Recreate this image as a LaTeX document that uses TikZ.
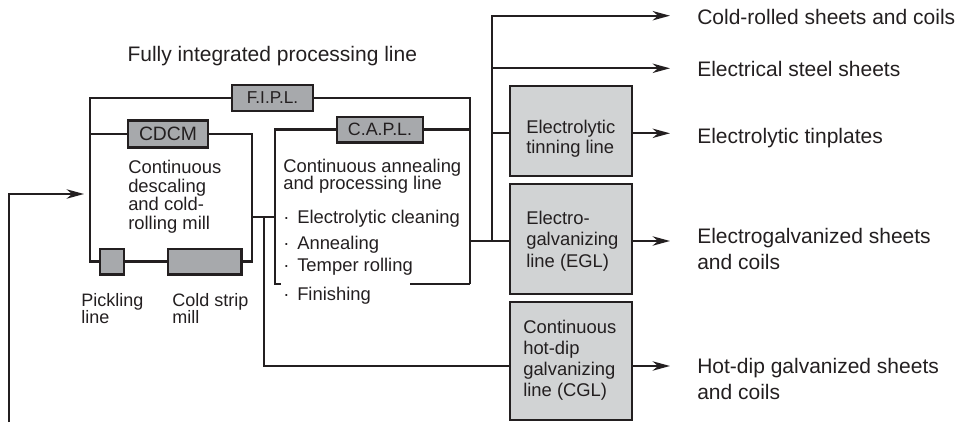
\documentclass[tikz,border=0pt]{standalone}
\usepackage{fontspec}
\setmainfont{Liberation Sans}
\usetikzlibrary{arrows.meta}
\definecolor{ink}{HTML}{231F20}
\definecolor{lblfill}{HTML}{A7A9AC}
\definecolor{boxfill}{HTML}{D1D3D4}
\begin{document}
\begin{tikzpicture}[x=0.75pt,y=-0.75pt,
  line/.style={draw=ink,line width=1.7pt},
  arr/.style={line,-{Stealth[length=13pt,width=7pt,inset=4pt]}},
  lbl/.style={draw=ink,line width=2pt,fill=lblfill,inner sep=0pt,text=ink},
  proc/.style={draw=ink,line width=1.7pt,fill=boxfill,inner sep=0pt,minimum width=91.5pt},
  txt/.style={inner sep=0pt,align=left,text=ink},
  big/.style={txt,font=\fontsize{15.75}{19.5}\selectfont},
  mid/.style={txt,font=\fontsize{13.8}{13.95}\selectfont},
]
\useasboundingbox (0,0) rectangle (959,422);

% label boxes
\node[lbl,minimum width=60.75pt,minimum height=19.5pt,font=\fontsize{12.9}{14}\selectfont] (fipl) at (272.5,98) {F.I.P.L.};
\node[lbl,minimum width=60pt,minimum height=20pt,font=\fontsize{14.5}{16}\selectfont] (cdcm) at (168,134) {CDCM};
\node[lbl,minimum width=64.5pt,minimum height=19pt,font=\fontsize{13.4}{15}\selectfont] (capl) at (380,129.5) {C.A.P.L.};
\node[lbl,minimum width=18pt,minimum height=19pt] (pick) at (112,261.5) {};
\node[lbl,minimum width=55pt,minimum height=19pt] (csm) at (204.5,261.5) {};

% process boxes
\node[proc,minimum height=67.5pt] (etl) at (571,131) {};
\node[proc,minimum height=82.5pt] (egl) at (571,239) {};
\node[proc,minimum height=88.5pt] (cgl) at (571,361) {};

% coordinates
\coordinate (fL) at (90,98);
\coordinate (fR) at (470,98);
\coordinate (cR) at (252,134);
\coordinate (j1) at (252,216.7);
\coordinate (j2) at (275,216.7);
\coordinate (j3) at (264,216.7);
\coordinate (cT) at (275,129.5);
\coordinate (cB) at (275,284);
\coordinate (cB1) at (281,284);
\coordinate (cB2) at (410,284);
\coordinate (cBR) at (470,284);
\coordinate (oj) at (470,241);
\coordinate (eglin) at (510,241);
\coordinate (etlin) at (510,133.3);
\coordinate (cglin) at (510,366);
\coordinate (vx) at (491.7,15.7);
\coordinate (o1) at (670,15.7);
\coordinate (o2) at (670,68.3);
\coordinate (in0) at (9,422);
\coordinate (in1) at (84,194);

% F.I.P.L. loop and CDCM loop
\draw[line] (fipl.west) -- (fL) |- (pick.west);
\draw[line] (pick.east) -- (csm.west);
\draw[line] (csm.east) -| (cR) -- (cdcm.east);
\draw[line] (cdcm.west) -- (cdcm.west -| fL);
\draw[line] (fipl.east) -- (fR) -- (cBR);
% C.A.P.L. box
\draw[line] (capl.west) -- (cT) -- (cB) -- (cB1);
\draw[line] (cB2) -- (cBR);
\draw[line] (capl.east) -- (capl.east -| fR);
% joints
\draw[line] (j1) -- (j2);
\draw[line] (j3) |- (cglin);
\draw[line] (oj) -- (eglin);
% output distributor
\draw[arr] (vx |- eglin) -- (vx) -- (o1);
\draw[arr] (vx |- o2) -- (o2);
\draw[line] (vx |- etlin) -- (etlin);
\draw[arr] (etlin -| etl.east) -- (etlin -| o1);
\draw[arr] (eglin -| egl.east) -- (eglin -| o1);
\draw[arr] (cglin -| cgl.east) -- (cglin -| o1);
% input
\draw[arr] (in0) |- (in1);

% texts
\node[big,anchor=base] (title) at (272.3,61.7) {Fully integrated processing line};
\node[big,anchor=base west] (t1) at (697,24) {Cold-rolled sheets and coils};
\node[big,anchor=base west] (t2) at (697,76) {Electrical steel sheets};
\node[big,anchor=base west] (t3) at (697,143.3) {Electrolytic tinplates};
\node[big,anchor=north west] (t4) at (697,228.3) {Electrogalvanized sheets\\and coils};
\node[big,anchor=north west] (t5) at (697,357.7) {Hot-dip galvanized sheets\\and coils};

\node[mid,anchor=north west] (cdcmt) at (128,160.1) {Continuous\\descaling\\and cold-\\rolling mill};
\node[mid,anchor=north west,font=\fontsize{13.8}{13}\selectfont] (caplt) at (283,158.5) {Continuous annealing\\and processing line};
\node[mid,anchor=base west] (b1) at (283,223.3) {\makebox[10.5pt][l]{·}Electrolytic cleaning};
\node[mid,anchor=base west] (b2) at (283,249.3) {\makebox[10.5pt][l]{·}Annealing};
\node[mid,anchor=base west] (b3) at (283,271.7) {\makebox[10.5pt][l]{·}Temper rolling};
\node[mid,anchor=base west] (b4) at (283,300) {\makebox[10.5pt][l]{·}Finishing};
\node[mid,anchor=north west,font=\fontsize{13.5}{13}\selectfont] (pickt) at (81,292.8) {Pickling\\line};
\node[mid,anchor=north west,font=\fontsize{13.5}{13}\selectfont] (csmt) at (172,292.8) {Cold strip\\mill};

\node[mid,anchor=north west,font=\fontsize{13.8}{15.5}\selectfont] (etlt) at (526,119.5) {Electrolytic\\tinning line};
\node[mid,anchor=north west,font=\fontsize{13.8}{15.9}\selectfont] (eglt) at (526,211.1) {Electro-\\galvanizing\\line (EGL)};
\node[mid,anchor=north west,font=\fontsize{13.8}{15.75}\selectfont] (cglt) at (523,319.8) {Continuous\\hot-dip\\galvanizing\\line (CGL)};
\end{tikzpicture}
\end{document}
